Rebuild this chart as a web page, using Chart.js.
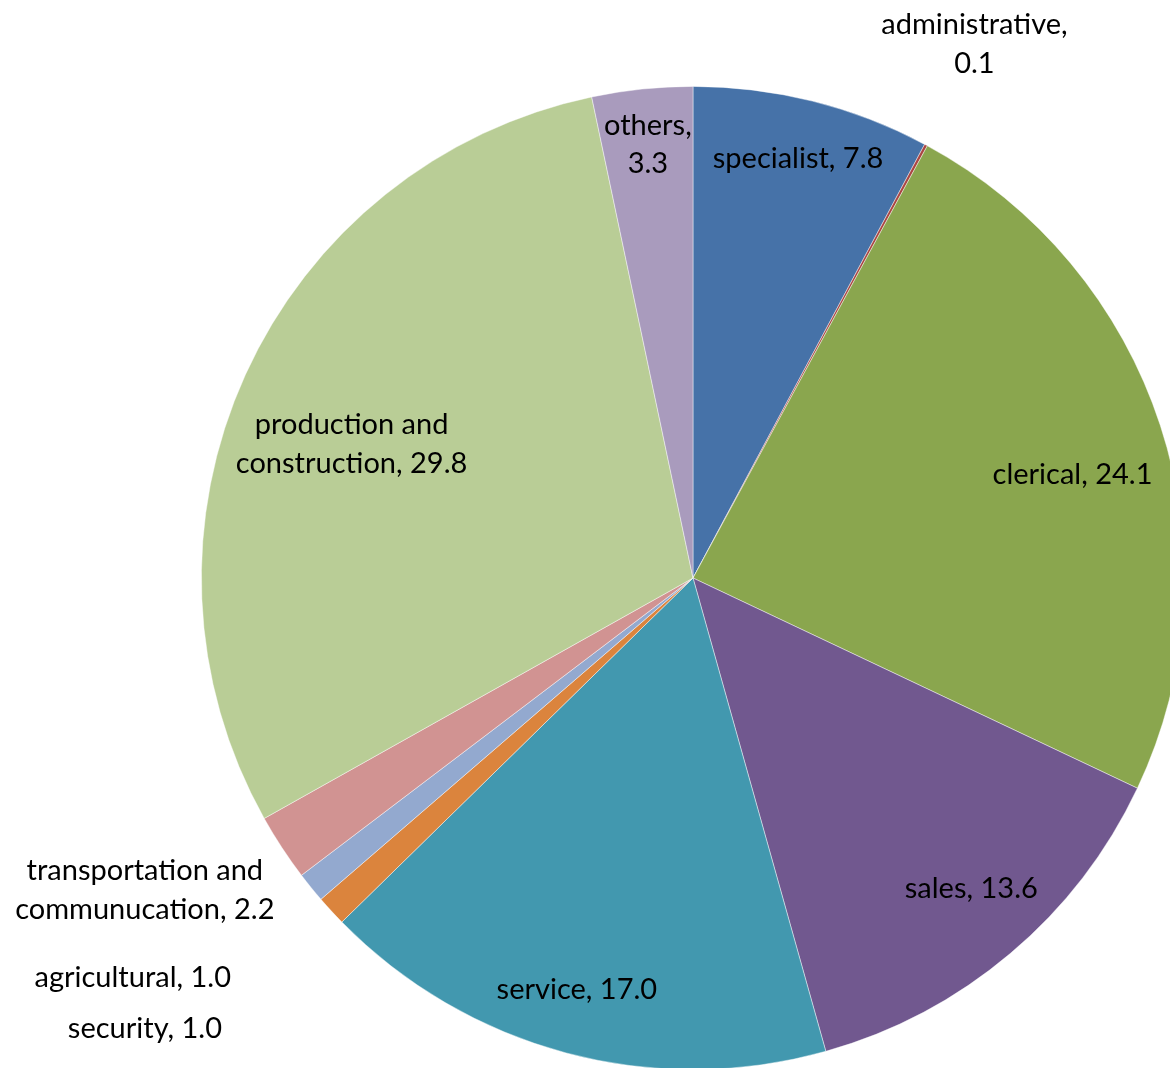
<!DOCTYPE html>
<html>
<head>
<meta charset="utf-8">
<script src="https://cdn.jsdelivr.net/npm/chart.js@4/dist/chart.umd.min.js"></script>
<style>
html,body{margin:0;padding:0;background:#fff;overflow:hidden;width:1170px;height:1068px;}
#wrap{position:absolute;left:0;top:0;width:1400px;height:1200px;}
</style>
</head>
<body>
<div id="wrap"><canvas id="c" width="1400" height="1200"></canvas></div>
<script>
// ---- data ----
const categories = ["specialist","administrative","clerical","sales","service","security","agricultural","transportation and communucation","production and construction","others"];
const shares = [7.8, 0.1, 24.1, 13.6, 17.0, 1.0, 1.0, 2.2, 29.8, 3.3];

// ---- styles / label layout ----
const colors = ["#4672A8","#AA4643","#8AA64E","#71588F","#4298AF","#DB843D","#93A9CF","#D19392","#B9CD96","#A99BBD"];
// r: radial factor of label centre, da: angular offset (deg), br: where to break the line
const labelLayout = [
  {r:0.88, da:0,    br:null},
  {r:1.228,da:-0.5, br:", "},
  {r:0.80, da:2.9,  br:null},
  {r:0.848,da:-1.7, br:null},
  {r:0.87, da:0.8,  br:null},
  {r:1.443,da:3.2,  br:null},
  {r:1.40, da:3.5,  br:null},
  {r:1.283,da:3.6,  br:"and "},
  {r:0.746,da:-3,   br:"and "},
  {r:0.886,da:0,    br:", "}
];

const labelPlugin = {
  id:'sliceLabels',
  afterDatasetsDraw(chart){
    const ctx = chart.ctx;
    const meta = chart.getDatasetMeta(0);
    ctx.save();
    ctx.font = '29px Lato, "Open Sans", sans-serif';
    ctx.fillStyle = '#000';
    ctx.textAlign = 'center';
    ctx.textBaseline = 'middle';
    meta.data.forEach((arc, i) => {
      const lay = labelLayout[i];
      const p = arc.getProps(['x','y','startAngle','endAngle','outerRadius'], true);
      const mid = (p.startAngle + p.endAngle)/2 + lay.da*Math.PI/180;
      const rr = p.outerRadius * lay.r;
      const cx = p.x + Math.cos(mid)*rr;
      const cy = p.y + Math.sin(mid)*rr;
      const text = categories[i] + ', ' + shares[i].toFixed(1);
      let lines = [text];
      if (lay.br) {
        const k = text.indexOf(lay.br);
        lines = [text.slice(0, k + lay.br.length).trim(), text.slice(k + lay.br.length)];
      }
      const lh = 38.5;
      lines.forEach((ln, j) => {
        ctx.fillText(ln, cx, cy + (j - (lines.length-1)/2)*lh);
      });
    });
    ctx.restore();
  }
};

new Chart(document.getElementById('c'), {
  type:'pie',
  data:{
    labels: categories,
    datasets:[{
      data: shares,
      backgroundColor: colors,
      borderColor: 'rgba(255,255,255,0.55)',
      borderWidth: 0.8
    }]
  },
  options:{
    responsive:false,
    animation:false,
    devicePixelRatio:1,
    layout:{padding:{left:201, top:86, right:215, bottom:130}},
    plugins:{legend:{display:false}, tooltip:{enabled:false}}
  },
  plugins:[labelPlugin]
});
</script>
</body>
</html>
